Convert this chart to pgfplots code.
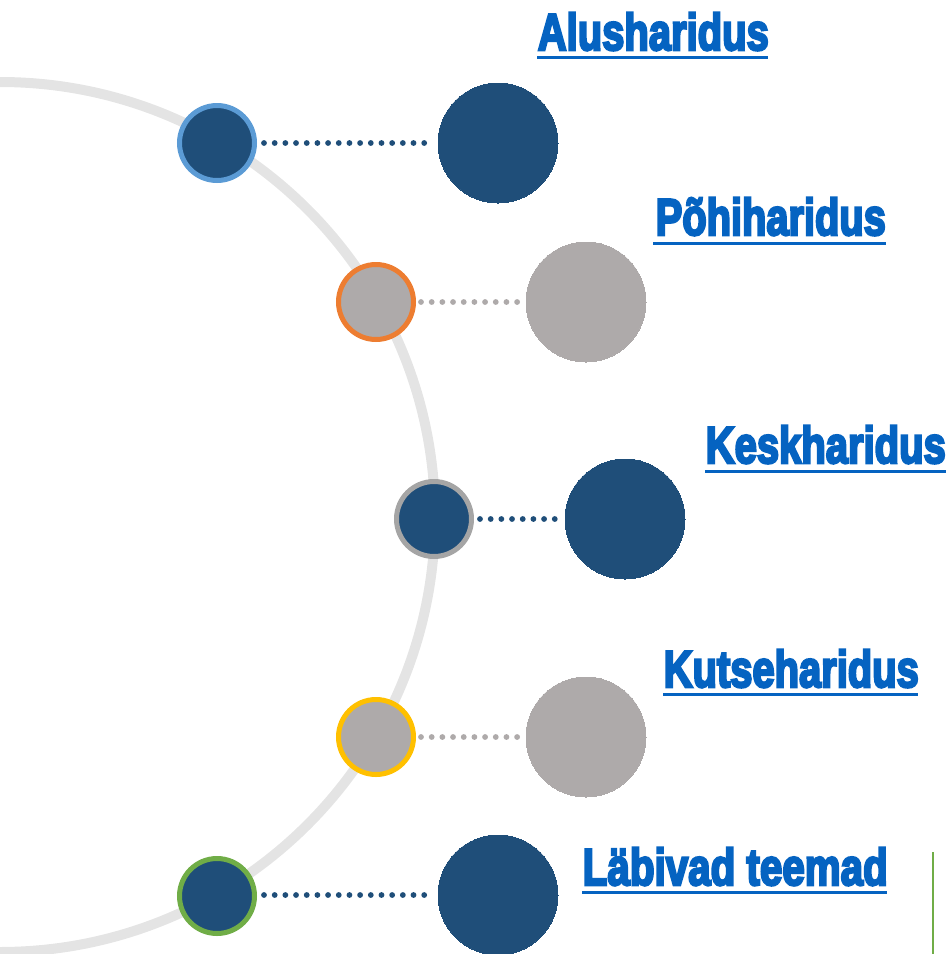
\documentclass[border=0pt]{standalone}
\usepackage{pgfplots}
\pgfplotsset{compat=1.18}
\usepackage{graphicx}
\usepackage{fontspec}
\setmainfont{Liberation Sans}[BoldFeatures={FakeBold=5}]
\definecolor{navy}{HTML}{1F4E79}
\definecolor{stone}{HTML}{AEAAAA}
\definecolor{ringgray}{HTML}{E4E4E4}
\definecolor{oblue}{HTML}{5B9BD5}
\definecolor{oorange}{HTML}{ED7D31}
\definecolor{ogray}{HTML}{A5A5A5}
\definecolor{oyellow}{HTML}{FFC000}
\definecolor{ogreen}{HTML}{70AD47}
\definecolor{linkblue}{HTML}{0563C1}
\newcommand\lbl[2]{\resizebox{#1}{\height}{\fontsize{12.9pt}{14pt}\selectfont\bfseries #2}}
\begin{document}
\begin{tikzpicture}
\begin{axis}[
  width=238pt, height=238.5pt, scale only axis,
  xmin=0, xmax=952, ymin=0, ymax=954, y dir=reverse,
  hide axis, clip=true, clip marker paths=true,
]
% ring
\addplot[only marks, mark=o, mark size=108.75pt,
  mark options={draw=ringgray, line width=2.5pt}] coordinates {(0,517)};
% dotted connectors
\addplot[navy, line width=1.45pt, line cap=round, dash pattern=on 0pt off 2.67pt] coordinates {(264,143) (434,143)};
\addplot[stone, line width=1.45pt, line cap=round, dash pattern=on 0pt off 2.67pt] coordinates {(421,302) (522,302)};
\addplot[navy, line width=1.45pt, line cap=round, dash pattern=on 0pt off 2.67pt] coordinates {(480,519) (561,519)};
\addplot[stone, line width=1.45pt, line cap=round, dash pattern=on 0pt off 2.67pt] coordinates {(421,737) (522,737)};
\addplot[navy, line width=1.45pt, line cap=round, dash pattern=on 0pt off 2.67pt] coordinates {(264,895) (434,895)};
% small circles
\addplot[only marks, mark=*, mark size=9.375pt, mark options={draw=oblue, fill=navy, line width=1.25pt}] coordinates {(217,143)};
\addplot[only marks, mark=*, mark size=9.375pt, mark options={draw=oorange, fill=stone, line width=1.25pt}] coordinates {(376,302)};
\addplot[only marks, mark=*, mark size=9.375pt, mark options={draw=ogray, fill=navy, line width=1.25pt}] coordinates {(434,519)};
\addplot[only marks, mark=*, mark size=9.375pt, mark options={draw=oyellow, fill=stone, line width=1.25pt}] coordinates {(376,737)};
\addplot[only marks, mark=*, mark size=9.375pt, mark options={draw=ogreen, fill=navy, line width=1.25pt}] coordinates {(217,896)};
% large circles
\addplot[only marks, mark=*, mark size=15pt, mark options={draw=navy, fill=navy, line width=0pt}] coordinates {(498,143) (625,519) (498,895)};
\addplot[only marks, mark=*, mark size=15pt, mark options={draw=stone, fill=stone, line width=0pt}] coordinates {(586,302) (586,737)};
% labels
\node[anchor=base west, inner sep=0pt, text=linkblue] at (axis cs:537,50) {\lbl{57.75pt}{Alusharidus}};
\draw[linkblue, line width=0.75pt] (axis cs:537,57) -- (axis cs:768,57);
\node[anchor=base west, inner sep=0pt, text=linkblue] at (axis cs:655,235) {\lbl{57.5pt}{Põhiharidus}};
\draw[linkblue, line width=0.75pt] (axis cs:653,243) -- (axis cs:886,243);
\node[anchor=base west, inner sep=0pt, text=linkblue] at (axis cs:705,463) {\lbl{60pt}{Keskharidus}};
\draw[linkblue, line width=0.75pt] (axis cs:705,471) -- (axis cs:946,471);
\node[anchor=base west, inner sep=0pt, text=linkblue] at (axis cs:663,687) {\lbl{63.75pt}{Kutseharidus}};
\draw[linkblue, line width=0.75pt] (axis cs:663,694) -- (axis cs:918,694);
\node[anchor=base west, inner sep=0pt, text=linkblue] at (axis cs:582,885) {\lbl{76.25pt}{Läbivad teemad}};
\draw[linkblue, line width=0.75pt] (axis cs:582,892) -- (axis cs:887,892);
\addplot[ogreen, line width=0.6pt] coordinates {(933,852) (933,954)};
\end{axis}
\pgfresetboundingbox
\useasboundingbox (current axis.south west) rectangle (current axis.north east);
\end{tikzpicture}
\end{document}
